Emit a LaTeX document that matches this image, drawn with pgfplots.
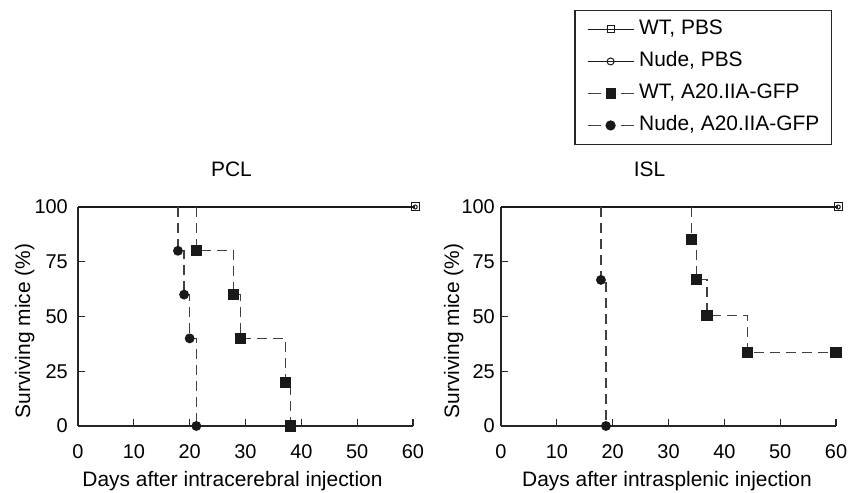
\documentclass[border=0pt]{standalone}
\usepackage{pgfplots}
\pgfplotsset{compat=1.18}
\usepackage{fontspec}
\setmainfont{Liberation Sans}

\pgfplotsset{
  surv/.style={
    scale only axis, width=335bp, height=219bp,
    xmin=0, xmax=60, ymin=0, ymax=100,
    axis x line=bottom, axis y line=left,
    axis line style={-, line width=1.2bp, black!85},
    xtick={0,10,...,60}, ytick={0,25,50,75,100},
    tick align=inside, major tick length=7bp,
    tick style={line width=1.1bp, black!85},
    clip=false,
    font=\fontsize{21}{25}\selectfont,
    tick label style={font=\fontsize{20}{24}\selectfont},
    /pgf/number format/assume math mode=true,
    xticklabel style={anchor=base, yshift=-32bp},
    yticklabel style={inner sep=0pt},
    ylabel={Surviving mice (\%)},
    title style={anchor=base, at={(axis description cs:0.5,1)}, yshift=25bp},
    xlabel style={anchor=base, at={(axis description cs:0.5,0)}, yshift=-60bp},
  },
  wtpbs/.style={black!90, solid, line width=1.2bp, mark=square, mark size=4bp,
    mark options={fill=white, solid, line width=1bp}},
  nudepbs/.style={black!90, solid, line width=1.2bp, mark=o, mark size=2bp,
    mark options={fill=white, solid, line width=1bp}},
  wta20/.style={black!75, line width=1.2bp, dash pattern=on 10bp off 6bp,
    mark=square*, mark size=5bp, mark options={solid, black!90}},
  nudea20/.style={black!75, line width=1.2bp, dash pattern=on 10bp off 6bp,
    mark=*, mark size=4.3bp, mark options={solid, black!90}},
  solidleg/.style={legend image code/.code={
    \draw[##1] (0bp,0bp) -- (46bp,0bp);
    \draw[##1, mark indices={1}, mark size=#1] plot[only marks] coordinates {(23bp,0bp)};}},
  dashleg/.style={legend image code/.code={
    \draw[##1, solid] (0bp,0bp) -- (13bp,0bp) (33bp,0bp) -- (46bp,0bp);
    \draw[##1, mark indices={1}, mark size=#1] plot[only marks] coordinates {(23bp,0bp)};}},
}

\begin{document}
\begin{tikzpicture}
\useasboundingbox (0bp,0bp) rectangle (854bp,493bp);

% PCL
\begin{axis}[surv, at={(78bp,67bp)}, anchor=south west,
  title={PCL}, title style={xshift=-14bp},
  xlabel={Days after intracerebral injection}, xlabel style={xshift=-13bp},
  ylabel style={at={(axis description cs:-0.143,0.434)}, anchor=base},
  yticklabel style={xshift=-10bp}]
\addplot[wtpbs, mark indices={2}] coordinates {(0,100) (60.4,100)};
\addplot[nudepbs, mark indices={2}] coordinates {(0,100) (60.4,100)};
\addplot[wta20, mark indices={2,4,6,8,10}] coordinates {
  (21.2,100) (21.2,80) (27.8,80) (27.8,60) (29.1,60) (29.1,40)
  (37.2,40) (37.2,20) (38.1,20) (38.1,0)};
\addplot[nudea20, mark indices={2,4,6,8}] coordinates {
  (17.9,100) (17.9,80) (19.0,80) (19.0,60) (20.0,60) (20.0,40)
  (21.2,40) (21.2,0)};
\end{axis}

% ISL
\begin{axis}[surv, at={(501bp,67bp)}, anchor=south west,
  title={ISL}, title style={xshift=-19bp},
  xlabel={Days after intrasplenic injection}, xlabel style={xshift=-1.5bp},
  ylabel style={at={(axis description cs:-0.125,0.434)}, anchor=base},
  yticklabel style={xshift=-6bp},
  legend cell align=left,
  legend style={at={(axis description cs:0.988,1.9)}, anchor=north east,
    draw=black!85, line width=1.1bp, inner xsep=12bp, inner ysep=9.5bp,
    nodes={inner sep=0pt, text height=15bp, text depth=4bp},
    row sep=13bp, column sep=5bp,
    font=\fontsize{21}{25}\selectfont}]
\addplot[wtpbs, solidleg=3.5bp, mark indices={2}] coordinates {(0,100) (60.4,100)};
\addlegendentry{WT, PBS}
\addplot[nudepbs, solidleg=3.5bp, mark indices={2}] coordinates {(0,100) (60.4,100)};
\addlegendentry{Nude, PBS}
\addplot[wta20, dashleg=4.5bp, mark indices={2,4,6,8,9}] coordinates {
  (34.1,100) (34.1,85) (35.0,85) (35.0,67) (36.9,67) (36.9,50.5)
  (44.1,50.5) (44.1,33.5) (60,33.5)};
\addlegendentry{WT, A20.IIA-GFP}
\addplot[nudea20, dashleg=4.5bp, mark indices={2,4}] coordinates {
  (17.9,100) (17.9,66.7) (18.8,66.7) (18.8,0)};
\addlegendentry{Nude, A20.IIA-GFP}
\end{axis}
\end{tikzpicture}
\end{document}
